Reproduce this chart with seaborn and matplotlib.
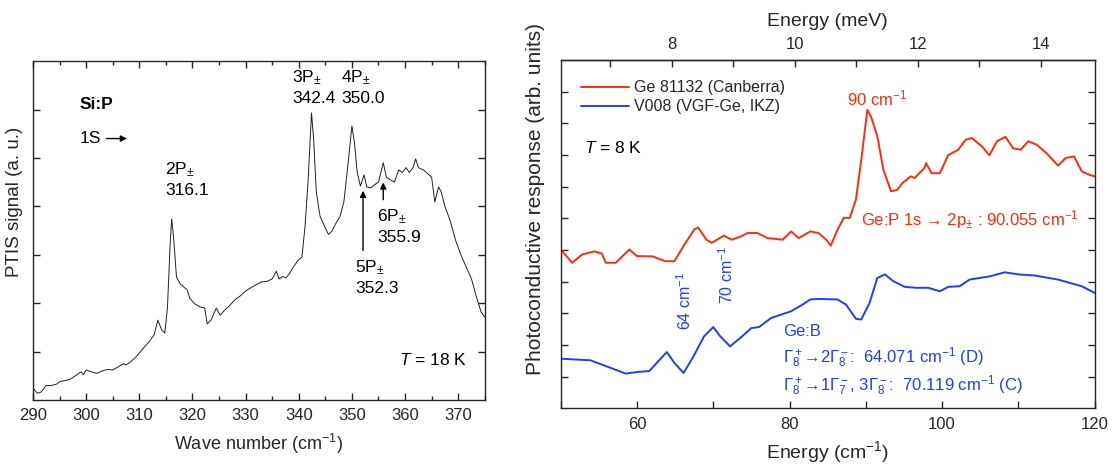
import numpy as np
import pandas as pd
import matplotlib
matplotlib.use("Agg")
import matplotlib.pyplot as plt
import seaborn as sns
from matplotlib.ticker import MultipleLocator, NullFormatter

# ---------------- data ----------------
# Left panel: Si:P PTIS spectrum
si_wave = [290, 290.8, 291.5, 292.5, 293.5, 294.5, 295, 296, 297, 298, 299, 299.5, 300, 301, 302, 303,
           304, 305, 306, 307, 307.5, 308.5, 309.5, 310, 311, 312, 312.8, 313.5, 314.2, 314.8, 315.3,
           315.8, 316.1, 316.5, 317, 317.7, 318.5, 319, 319.5, 320.5, 321.5, 322.3, 322.8, 323.5, 324.5,
           325.2, 326, 327, 328, 329, 330, 331, 332, 333, 334, 335, 335.8, 336.3, 337, 337.6, 338.3, 339,
           340, 340.6, 341.2, 341.8, 342.4, 342.8, 343.3, 344, 345, 345.6, 346.2, 347, 347.8, 348.5,
           349.3, 350, 350.5, 351, 351.6, 352.3, 352.8, 353.5, 354.3, 355, 355.9, 356.5, 357.2, 358,
           358.8, 359.5, 360.2, 360.8, 361.5, 362, 362.5, 363.5, 364.5, 365, 365.6, 366.3, 366.8, 367.5,
           368.5, 369.5, 370.5, 371.5, 372.5, 373.5, 374.3, 375]
si_signal = [0.25, 0.14, 0.16, 0.30, 0.30, 0.33, 0.38, 0.40, 0.43, 0.50, 0.58, 0.52, 0.62, 0.58, 0.55, 0.60,
             0.63, 0.62, 0.68, 0.75, 0.72, 0.80, 0.90, 0.97, 1.10, 1.22, 1.35, 1.65, 1.45, 1.38, 1.90,
             3.20, 3.74, 3.30, 2.54, 2.40, 2.32, 2.28, 2.10, 1.98, 1.92, 1.90, 1.57, 1.65, 1.90,
             1.75, 1.85, 1.95, 2.07, 2.15, 2.25, 2.32, 2.38, 2.44, 2.45, 2.50, 2.66, 2.50, 2.55, 2.52, 2.62, 2.75,
             2.90, 2.95, 3.60, 4.60, 5.93, 5.40, 4.30, 3.80, 3.55, 3.42, 3.48, 3.65, 3.80, 4.10,
             4.90, 5.66, 5.30, 4.70, 4.42, 4.65, 4.40, 4.38, 4.45, 4.50, 4.90, 4.60, 4.55, 4.50,
             4.75, 4.70, 4.80, 4.70, 4.80, 4.98, 4.80, 4.75, 4.65, 4.60, 4.09, 4.40, 4.30, 4.00,
             3.70, 3.30, 3.00, 2.75, 2.50, 2.10, 1.82, 1.71]

# Right panel: Ge photoconductive response
ge_p_cm = [50, 51.5, 52.8, 54.4, 55.4, 55.9, 57.2, 59, 60, 60.8, 62.1, 63.7, 64.9, 66.2, 67.5, 68.0,
           69.1, 69.8, 71.4, 72.4, 73.5, 74.5, 75.8, 77.1, 79.1, 80.2, 81.2, 82.7, 83.8, 84.8, 85.4,
           86.1, 86.3, 87.1, 87.9, 88.7, 89.4, 90.2, 90.7, 91.5, 92.3, 93.3, 94.1, 94.8, 95.9, 96.4,
           97.7, 97.9, 98.6, 99.7, 100.8, 102.1, 103.1, 103.9, 105.2, 106.2, 107.2, 108.3, 109.3,
           110.3, 111.3, 112.4, 113.7, 115.2, 116.2, 117.3, 118.3, 119.3, 120]
ge_p_resp = [5.02, 4.60, 4.86, 4.96, 4.89, 4.60, 4.60, 5.02, 4.81, 4.81, 4.80, 4.65, 4.65, 5.17, 5.65, 5.72,
             5.33, 5.23, 5.46, 5.33, 5.42, 5.54, 5.54, 5.38, 5.33, 5.59, 5.38, 5.59, 5.54, 5.33, 5.14,
             5.54, 5.65, 6.02, 6.02, 6.60, 7.85, 9.43, 9.20, 8.60, 7.54, 6.86, 6.90, 7.12, 7.33, 7.28,
             7.60, 7.75, 7.43, 7.43, 8.00, 8.17, 8.49, 8.54, 8.28, 8.00, 8.44, 8.58, 8.22,
             8.17, 8.44, 8.33, 8.06, 7.67, 7.91, 7.96, 7.49, 7.38, 7.33]

ge_b_cm = [50, 53.9, 55.9, 58.5, 60, 61.6, 62.6, 63.9, 64.9, 66.1, 67.3, 68.8, 70, 70.9, 72.2, 73.5,
           75, 76, 77.6, 80.2, 81.7, 82.7, 83.8, 86.3, 87.4, 88.7, 89.4, 90.5, 91.5, 92.5, 93.6, 95.1,
           96.6, 98.2, 99.7, 100.8, 102.3, 103.6, 105.4, 106.4, 108.2, 110.1, 112.1, 115.2, 118.3, 120]
ge_b_resp = [1.57, 1.52, 1.34, 1.10, 1.15, 1.18, 1.44, 1.78, 1.44, 1.12, 1.60, 2.28, 2.57, 2.28, 1.96, 2.22,
             2.54, 2.57, 2.86, 3.07, 3.28, 3.44, 3.46, 3.44, 3.28, 2.83, 2.81, 3.34, 4.12, 4.23, 4.02, 3.84,
             3.81, 3.81, 3.70, 3.84, 3.86, 4.07, 4.14, 4.18, 4.30, 4.23, 4.20, 4.07, 3.86, 3.65]

series_labels = ["Ge 81132 (Canberra)", "V008 (VGF-Ge, IKZ)"]
left_xticks = [290, 300, 310, 320, 330, 340, 350, 360, 370]
right_xticks = [60, 80, 100, 120]
mev_ticks = [8, 10, 12, 14]

RED = "#ff2a12"
BLUE = "#1f3dff"
CM_PER_MEV = 8.0655

# ---------------- style ----------------
sns.set_style("ticks")
plt.rcParams["font.family"] = ["Liberation Sans", "DejaVu Sans"]
plt.rcParams["mathtext.fontset"] = "custom"
plt.rcParams["mathtext.rm"] = "Liberation Sans"
plt.rcParams["mathtext.it"] = "Liberation Sans:italic"
plt.rcParams["mathtext.bf"] = "Liberation Sans:bold"
plt.rcParams["axes.linewidth"] = 1.0

fig = plt.figure(figsize=(11.17, 4.70), dpi=100)
ax1 = fig.add_axes([0.0295, 0.149, 0.4045, 0.721])
ax2 = fig.add_axes([0.502, 0.131, 0.478, 0.741])

# ---------------- left panel ----------------
df_si = pd.DataFrame({"wave": si_wave, "signal": si_signal})
sns.lineplot(data=df_si, x="wave", y="signal", ax=ax1, color="#222222", lw=0.7,
             sort=False, estimator=None)
ax1.set_xlim(290, 375)
ax1.set_ylim(0, 7)
ax1.set_xticks(left_xticks)
ax1.xaxis.set_minor_locator(MultipleLocator(5))
ax1.set_yticks([1, 2, 3, 4, 5, 6])
ax1.yaxis.set_major_formatter(NullFormatter())
ax1.tick_params(axis="both", which="both", direction="in", top=True, right=True, labelsize=12)
ax1.tick_params(axis="both", which="major", length=5, width=1)
ax1.tick_params(axis="both", which="minor", length=3, width=1)
ax1.tick_params(axis="x", pad=6)
ax1.set_xlabel("Wave number (cm$^{-1}$)", fontsize=13, labelpad=6)
ax1.set_ylabel("PTIS signal (a. u.)", fontsize=13.5)
ax1.yaxis.set_label_coords(-0.022, 0.585)

txt_kw = dict(fontsize=12.5, color="black")
ax1.text(298.8, 6.1, "Si:P", fontweight="bold", va="center", ha="left", **txt_kw)
ax1.text(298.8, 5.4, "1S", va="center", ha="left", **txt_kw)
ax1.annotate("", xy=(308.2, 5.4), xytext=(303.3, 5.4),
             arrowprops=dict(arrowstyle="-|>", color="black", lw=1, mutation_scale=9))
ax1.text(314.9, 4.95, "2P$_{\\pm}$\n316.1", va="top", ha="left", linespacing=1.3, **txt_kw)
ax1.text(338.8, 6.85, "3P$_{\\pm}$\n342.4", va="top", ha="left", linespacing=1.3, **txt_kw)
ax1.text(348.0, 6.85, "4P$_{\\pm}$\n350.0", va="top", ha="left", linespacing=1.3, **txt_kw)
ax1.text(354.8, 3.97, "6P$_{\\pm}$\n355.9", va="top", ha="left", linespacing=1.3, **txt_kw)
ax1.text(350.6, 2.92, "5P$_{\\pm}$\n352.3", va="top", ha="left", linespacing=1.3, **txt_kw)
ax1.annotate("", xy=(355.9, 4.55), xytext=(355.9, 4.08),
             arrowprops=dict(arrowstyle="-|>", color="black", lw=1, mutation_scale=9))
ax1.annotate("", xy=(352.1, 4.38), xytext=(352.1, 3.03),
             arrowprops=dict(arrowstyle="-|>", color="black", lw=1, mutation_scale=9))
ax1.text(358.8, 0.83, "$T$ = 18 K", va="center", ha="left", **txt_kw)

# ---------------- right panel ----------------
df_ge = pd.concat([
    pd.DataFrame({"cm": ge_p_cm, "resp": ge_p_resp, "sample": series_labels[0]}),
    pd.DataFrame({"cm": ge_b_cm, "resp": ge_b_resp, "sample": series_labels[1]}),
], ignore_index=True)
sns.lineplot(data=df_ge, x="cm", y="resp", hue="sample", ax=ax2,
             palette={series_labels[0]: RED, series_labels[1]: BLUE},
             lw=1.4, sort=False, estimator=None)
ax2.set_xlim(50, 120)
ax2.set_ylim(0, 11)
ax2.set_xticks(right_xticks)
ax2.xaxis.set_minor_locator(MultipleLocator(10))
ax2.set_yticks(list(range(1, 11)))
ax2.yaxis.set_major_formatter(NullFormatter())
ax2.tick_params(axis="both", which="both", direction="in", right=True, labelsize=12)
ax2.tick_params(axis="both", which="major", length=5, width=1)
ax2.tick_params(axis="both", which="minor", length=5, width=1)
ax2.tick_params(axis="x", pad=6)
ax2.set_xlabel("Energy (cm$^{-1}$)", fontsize=14, labelpad=5)
ax2.set_ylabel("Photoconductive response (arb. units)", fontsize=15)
ax2.yaxis.set_label_coords(-0.03, 0.60)

leg = ax2.legend(loc="upper left", bbox_to_anchor=(0.02, 0.97), frameon=False,
                 fontsize=11.5, handlelength=3.0, handletextpad=0.3,
                 labelspacing=0.25, borderaxespad=0.2)
for h in leg.get_lines():
    h.set_linewidth(1.4)

secax = ax2.secondary_xaxis("top", functions=(lambda x: x / CM_PER_MEV, lambda e: e * CM_PER_MEV))
secax.set_xticks(mev_ticks)
secax.xaxis.set_minor_locator(MultipleLocator(1))
secax.tick_params(axis="x", which="both", direction="in", length=5, width=1, labelsize=12, pad=6)
secax.set_xlabel("Energy (meV)", fontsize=14, labelpad=8)

nk = dict(fontsize=12)
ax2.text(53.1, 8.23, "$T$ = 8 K", va="center", ha="left", color="black", fontsize=12.5)
ax2.text(91.5, 9.8, "90 cm$^{-1}$", va="center", ha="center", color=RED, **nk)
ax2.text(89.4, 5.96, "Ge:P 1s \u2192 2p$_{\\pm}$ : 90.055 cm$^{-1}$", va="center", ha="left",
         color=RED, **nk)
ax2.text(66.2, 3.38, "64 cm$^{-1}$", rotation=90, va="center", ha="center", fontsize=11.5, color=BLUE)
ax2.text(71.8, 4.23, "70 cm$^{-1}$", rotation=90, va="center", ha="center", fontsize=11.5, color=BLUE)
ax2.text(79.2, 2.43, "Ge:B", va="center", ha="left", color=BLUE, **nk)
ax2.text(79.2, 1.61, "\u0393$_8^+$\u21922\u0393$_8^-$:  64.071 cm$^{-1}$ (D)", va="center", ha="left",
         color=BLUE, **nk)
ax2.text(79.2, 0.70, "\u0393$_8^+$\u21921\u0393$_7^-$, 3\u0393$_8^-$:  70.119 cm$^{-1}$ (C)", va="center",
         ha="left", color=BLUE, **nk)

fig.savefig("out.png", dpi=100)
